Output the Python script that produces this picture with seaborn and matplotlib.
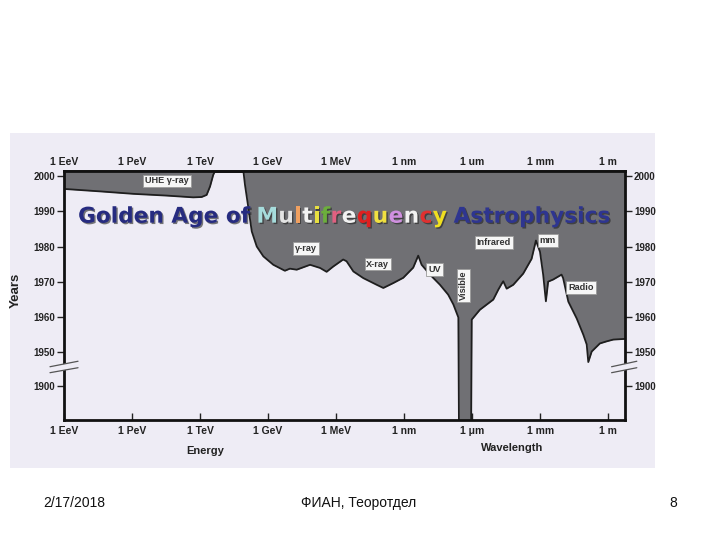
import matplotlib
matplotlib.use('Agg')
import matplotlib.pyplot as plt
import matplotlib.patheffects as pe
from matplotlib.patches import Rectangle, Polygon
import seaborn as sns

# x = log10(wavelength / m), y = year (scale is broken below 1950)
uhe_x = [-24.0, -22.41, -20.94, -19.47, -18.30, -17.93, -17.71, -17.56, -17.42, -17.34]
uhe_year = [1996.4, 1995.7, 1995.0, 1994.5, 1994.0, 1994.1, 1994.7, 1997.1, 2000.4, 2001.5]

main_x = [-16.09, -16.02, -15.89, -15.72, -15.50, -15.21, -14.77, -14.26, -14.04, -13.74,
          -13.15, -12.71, -12.42, -12.13, -11.69, -11.54, -11.24, -10.80, -10.21, -9.92,
          -9.48, -9.04, -8.60, -8.38, -8.23, -7.86, -7.42, -7.06, -6.83, -6.61,
          -6.58, -6.05, -6.02, -5.66, -5.07, -4.85, -4.70, -4.63, -4.48, -4.19,
          -3.75, -3.38, -3.19, -3.01, -2.87, -2.75, -2.65, -2.43, -2.06, -1.99,
          -1.76, -1.39, -1.10, -0.95, -0.88, -0.73, -0.37, -0.07, 0.22, 0.74]
main_year = [2001.5, 1997.6, 1991.9, 1984.3, 1980.0, 1977.2, 1974.8, 1973.1, 1973.7, 1973.4,
             1974.8, 1973.9, 1972.8, 1974.3, 1976.3, 1975.8, 1972.9, 1971.0, 1969.1, 1968.2,
             1969.6, 1971.1, 1974.0, 1977.4, 1974.8, 1972.0, 1969.1, 1966.3, 1963.5, 1959.8,
             1925.0, 1925.0, 1959.2, 1962.0, 1964.9, 1967.7, 1969.4, 1970.1, 1968.0, 1969.1,
             1972.3, 1976.5, 1981.7, 1978.5, 1972.0, 1964.4, 1970.0, 1970.6, 1972.0, 1971.0,
             1964.3, 1959.5, 1954.9, 1952.1, 1947.1, 1950.1, 1952.4, 1953.0, 1953.5, 1953.7]

tick_pos = [-24, -21, -18, -15, -12, -9, -6, -3, 0]
top_labels = ['1 EeV', '1 PeV', '1 TeV', '1 GeV', '1 MeV', '1 nm', '1 um', '1 mm', '1 m']
bottom_labels = ['1 EeV', '1 PeV', '1 TeV', '1 GeV', '1 MeV', '1 nm', '1 μm', '1 mm', '1 m']

year_ticks = [1940.4, 1950, 1960, 1970, 1980, 1990, 2000]
year_labels = ['1900', '1950', '1960', '1970', '1980', '1990', '2000']

band_labels = ['UHE γ-ray', 'γ-ray', 'X-ray', 'UV', 'Visible', 'Infrared', 'mm', 'Radio']
band_x = [-19.46, -13.33, -10.16, -7.66, -6.39, -5.04, -2.66, -1.20]
band_year = [1998.7, 1979.5, 1975.0, 1973.5, 1969.0, 1981.1, 1981.7, 1968.3]

title_parts = ['Golden Age of', 'M', 'u', 'l', 't', 'i', 'f', 'r', 'e', 'q', 'u', 'e', 'n', 'c', 'y',
               'Astrophysics']
title_colors = ['#262b80', '#a6dcdc', '#e4e4e4', '#f0a060', '#f2f2f2', '#e8e040', '#6cae3c',
                '#e06080', '#f2f2f2', '#e02020', '#f0e040', '#d090e0', '#f2f2f2', '#e03030',
                '#f0e020', '#2e3590']

sns.set_style('ticks')
plt.rcParams['font.family'] = ['Liberation Sans', 'DejaVu Sans']

panel = '#eeecf5'
gray = '#707074'

fig = plt.figure(figsize=(7.2, 5.4), dpi=100)
fig.patches.append(Rectangle((0.0139, 0.1333), 0.896, 0.62, transform=fig.transFigure,
                             facecolor=panel, edgecolor='none', zorder=-5))
ax = fig.add_axes([0.0889, 0.2222, 0.7792, 0.4611])
ax.set_facecolor(panel)

y_top = 2001.5
ax.fill_between(uhe_x, uhe_year, y_top, color=gray, lw=0)
ax.fill_between(main_x, main_year, y_top, color=gray, lw=0)
sns.lineplot(x=uhe_x, y=uhe_year, sort=False, estimator=None, color='#1e1e1e', lw=1.3, ax=ax)
sns.lineplot(x=main_x, y=main_year, sort=False, estimator=None, color='#1e1e1e', lw=1.3, ax=ax)

ax.set_xlim(-24, 0.74)
ax.set_ylim(1930.6, y_top)

# axes, ticks
for s in ax.spines.values():
    s.set_linewidth(2)
    s.set_color('#111111')
ax.set_xticks(tick_pos, bottom_labels, fontweight='bold', fontsize=7.5)
ax.tick_params(axis='x', direction='in', length=5, width=1, pad=4, colors='#222222')
secax = ax.secondary_xaxis('top')
secax.set_xticks(tick_pos, top_labels, fontweight='bold', fontsize=7.5)
secax.tick_params(direction='in', length=5, width=1, pad=3, colors='#222222')
secax.spines['top'].set_linewidth(2)

ax.set_yticks(year_ticks, year_labels, fontweight='bold', fontsize=7)
ax.tick_params(axis='y', direction='out', length=5, width=1, pad=1.5, colors='#222222',
               left=True, right=True, labelleft=True, labelright=True)

ax.set_ylabel('Years', fontweight='bold', fontsize=9.5, color='#222222')
ax.yaxis.set_label_coords(-0.075, 0.52)
ax.text(0.251, -0.126, 'Energy', transform=ax.transAxes, ha='center', va='center',
        fontweight='bold', fontsize=8, color='#222222')
ax.text(0.799, -0.114, 'Wavelength', transform=ax.transAxes, ha='center', va='center',
        fontweight='bold', fontsize=8, color='#222222')

# axis breaks
for (x0, x1) in [(-0.025, 0.025), (0.976, 1.021)]:
    lo = [(x0, 0.190), (x1, 0.210)]
    hi = [(x0, 0.214), (x1, 0.236)]
    ax.add_patch(Polygon(lo + hi[::-1], closed=True, transform=ax.transAxes, clip_on=False,
                         facecolor=panel, edgecolor='none', zorder=5))
    for seg in (lo, hi):
        ax.plot([p[0] for p in seg], [p[1] for p in seg], transform=ax.transAxes,
                clip_on=False, color='#555555', lw=0.9, zorder=6)

# band labels
for lab, bx, by in zip(band_labels, band_x, band_year):
    ax.text(bx, by, lab, ha='center', va='center', fontsize=6.6, fontweight='bold',
            color='#333333', rotation=90 if lab == 'Visible' else 0, zorder=7,
            bbox=dict(boxstyle='square,pad=0.2', fc='#f6f6f6', ec='#9a9a9a', lw=0.6))

# title with coloured letters
shadow = [pe.withSimplePatchShadow(offset=(1, -1), shadow_rgbFace='#222222', alpha=0.6)]
t = ax.text(-23.38, 1988.5, title_parts[0], ha='left', va='center', fontsize=15.6,
            fontweight='bold', family='DejaVu Sans', color=title_colors[0],
            path_effects=shadow, zorder=8)
for i, (part, col) in enumerate(zip(title_parts[1:], title_colors[1:]), start=1):
    gap = 4.8 if i in (1, len(title_parts) - 1) else 0.3
    t = ax.annotate(part, xy=(1, 0), xycoords=t, xytext=(gap, 0), textcoords='offset points',
                    ha='left', va='bottom', fontsize=15.6, fontweight='bold',
                    family='DejaVu Sans', color=col, path_effects=shadow, zorder=8,
                    annotation_clip=False)

# slide footer
fig.text(74 / 720, 1 - 503 / 540, '2/17/2018', ha='center', va='center', fontsize=10, color='#111111')
fig.text(359 / 720, 1 - 503 / 540, 'ФИАН, Теоротдел', ha='center', va='center', fontsize=10,
         color='#111111')
fig.text(673 / 720, 1 - 503 / 540, '8', ha='center', va='center', fontsize=10, color='#111111')

fig.savefig('out.png', dpi=100)
